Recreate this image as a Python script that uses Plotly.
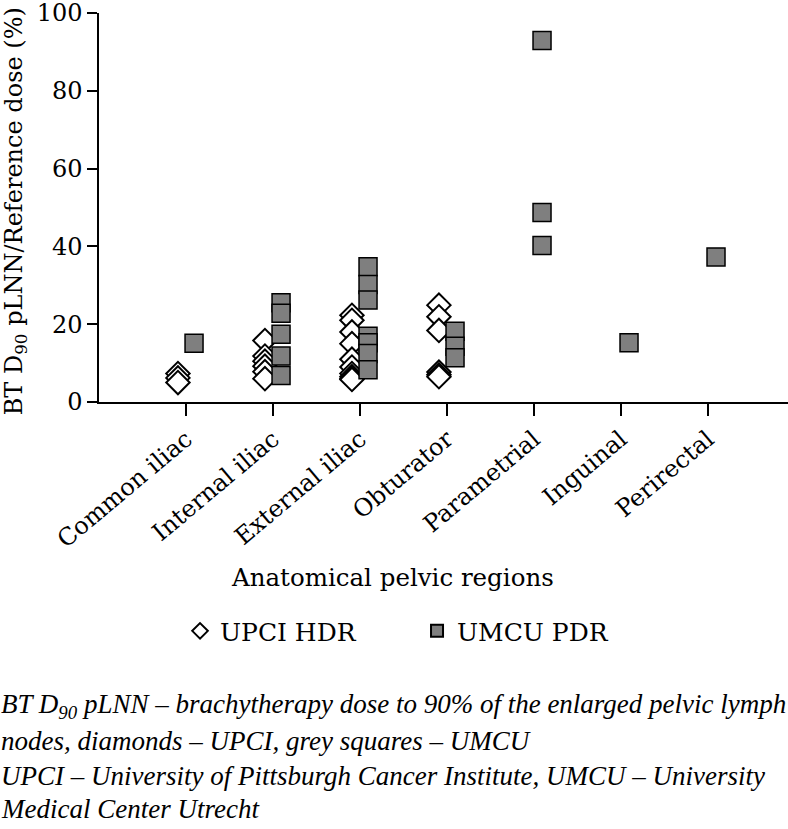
"""Brachytherapy dose to enlarged pelvic lymph nodes by anatomical region."""

import plotly.graph_objects as go

categories = ['Common iliac', 'Internal iliac', 'External iliac', 'Obturator',
              'Parametrial', 'Inguinal', 'Perirectal']

# UPCI HDR (diamonds)
upci_regions = (['Common iliac'] * 3 + ['Internal iliac'] * 6
                + ['External iliac'] * 10 + ['Obturator'] * 6)
upci_dose = [7.3, 6.2, 5.0,
             15.8, 11.8, 10.5, 9.2, 7.8, 6.0,
             22.3, 21.0, 18.0, 15.0, 11.0, 9.0, 7.3, 6.5, 6.0, 5.8,
             24.9, 21.9, 18.4, 7.7, 7.0, 6.5]

# UMCU PDR (grey squares)
umcu_regions = (['Common iliac'] + ['Internal iliac'] * 5 + ['External iliac'] * 7
                + ['Obturator'] * 3 + ['Parametrial'] * 3 + ['Inguinal', 'Perirectal'])
umcu_dose = [15.1,
             25.5, 22.8, 17.4, 11.8, 6.8,
             34.8, 30.2, 26.2, 16.9, 15.2, 12.5, 8.3,
             18.2, 14.3, 11.4,
             92.9, 48.7, 40.2,
             15.2, 37.3]

FONT = 'DejaVu Serif'
CAPTION_FONT = 'Liberation Serif'

fig = go.Figure()
fig.add_trace(go.Scatter(
    x=upci_regions, y=upci_dose, mode='markers', name='UPCI HDR',
    marker=dict(symbol='diamond', size=18, color='white',
                line=dict(color='black', width=2)),
))
fig.add_trace(go.Scatter(
    x=umcu_regions, y=umcu_dose, mode='markers', name='UMCU PDR',
    marker=dict(symbol='square', size=18, color='#7f7f7f',
                line=dict(color='black', width=1.5)),
))

fig.update_layout(
    width=788, height=829,
    margin=dict(l=99, r=0, t=13, b=427),
    paper_bgcolor='white', plot_bgcolor='white',
    font=dict(family=FONT, size=24, color='black'),
    scattermode='group', scattergap=0.63,
    showlegend=True,
    legend=dict(orientation='h', x=0.1176, y=-0.589, xanchor='left', yanchor='middle',
                itemsizing='constant', entrywidthmode='pixels', entrywidth=192,
                font=dict(size=25), bgcolor='rgba(0,0,0,0)'),
)
fig.update_xaxes(
    type='category', categoryorder='array', categoryarray=categories,
    range=[-1, 6.92], showline=True, linecolor='black', linewidth=1.5,
    ticks='outside', ticklen=12, tickcolor='black', tickwidth=1.5,
    tickangle=-40, tickfont=dict(size=24), showgrid=False, zeroline=False,
    automargin=False,
)
fig.update_yaxes(
    range=[0, 100], dtick=20, showline=True, linecolor='black', linewidth=1.5,
    ticks='outside', ticklen=10, tickcolor='black', tickwidth=1.5,
    tickfont=dict(size=24), ticklabeloverflow='allow',
    showgrid=False, zeroline=False, automargin=False,
)

# axis titles
fig.add_annotation(text='Anatomical pelvic regions', xref='paper', yref='paper',
                   x=0.4267, y=-0.45, xanchor='center', yanchor='middle',
                   showarrow=False, font=dict(size=24.5))
fig.add_annotation(text='BT D<sub>90</sub> pLNN/Reference dose (%)', xref='paper',
                   yref='paper', x=-0.122, y=0.49, xanchor='center', yanchor='middle',
                   textangle=-90, showarrow=False, font=dict(size=24))

# caption
caption = [
    'BT D<sub>90</sub> pLNN – brachytherapy dose to 90% of the enlarged pelvic lymph',
    'nodes, diamonds – UPCI, grey squares – UMCU',
    'UPCI – University of Pittsburgh Cancer Institute, UMCU – University',
    'Medical Center Utrecht',
]
caption_y = [-0.7815, -0.872, -0.962, -1.046]
for line, yy in zip(caption, caption_y):
    fig.add_annotation(text=f'<i>{line}</i>', xref='paper', yref='paper',
                       x=-0.1437, y=yy, xanchor='left', yanchor='middle',
                       showarrow=False, borderpad=0,
                       font=dict(family=CAPTION_FONT, size=27))

# drop the default 8px body margin so the figure sits at the window corner
fig.write_html("out.html", config={'displayModeBar': False},
               post_script="document.body.style.margin = '0';")
